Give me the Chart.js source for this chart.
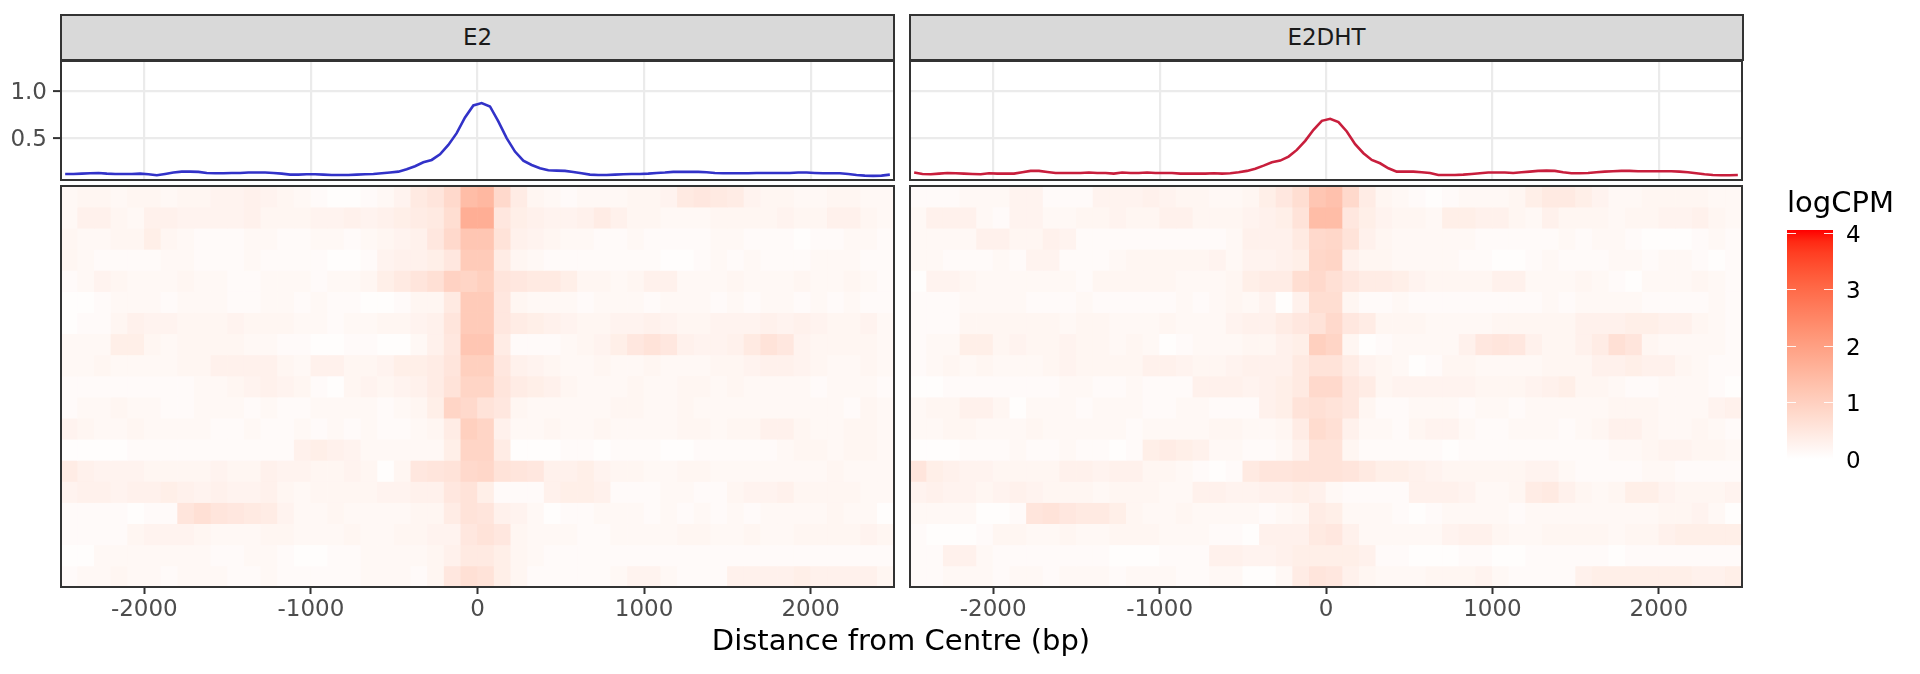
<!DOCTYPE html>
<html>
<head>
<meta charset="utf-8">
<script src="https://cdn.jsdelivr.net/npm/chart.js@4.4.0/dist/chart.umd.min.js"></script>
<style>
  html, body { margin: 0; padding: 0; background: #fff; }
  #wrap { position: relative; width: 1920px; height: 674px; overflow: hidden; font-family: "DejaVu Sans", sans-serif; }
  canvas { position: absolute; }
  .strip { position: absolute; top: 14px; height: 47px; background: #d9d9d9; border: 2px solid #333; box-sizing: border-box;
           color: #1a1a1a; font-size: 23px; line-height: 43px; text-align: center; }
  .lbl { position: absolute; white-space: nowrap; line-height: 1; color: #000; font-size: 29px; }
</style>
</head>
<body>
<div id="wrap">
  <div class="strip" style="left:60px;width:835px">E2</div>
  <div class="strip" style="left:909px;width:835px">E2DHT</div>
  <canvas id="line-e2" width="896" height="122" style="left:0;top:60px"></canvas>
  <canvas id="line-e2dht" width="836" height="122" style="left:908px;top:60px"></canvas>
  <canvas id="heat-e2" width="896" height="442" style="left:0;top:185px"></canvas>
  <canvas id="heat-e2dht" width="836" height="442" style="left:908px;top:185px"></canvas>
  <canvas id="legend" width="160" height="290" style="left:1760px;top:200px"></canvas>
  <div class="lbl" style="left:1787px;top:188px">logCPM</div>
  <div class="lbl" style="left:901px;top:626px;transform:translateX(-50%)">Distance from Centre (bp)</div>
</div>
<script>
// ---- data ----
const facets = ['E2', 'E2DHT'];
const xTicks = [-2000, -1000, 0, 1000, 2000];
const yTicks = [0.5, 1.0];
const legendTicks = [0, 1, 2, 3, 4];
const fillMin = 0;
const fillMax = 4.05;

// profile bin centres (bp)
const profileX = [
  -2475, -2425, -2375, -2325, -2275, -2225, -2175, -2125, -2075, -2025,
  -1975, -1925, -1875, -1825, -1775, -1725, -1675, -1625, -1575, -1525,
  -1475, -1425, -1375, -1325, -1275, -1225, -1175, -1125, -1075, -1025,
  -975, -925, -875, -825, -775, -725, -675, -625, -575, -525,
  -475, -425, -375, -325, -275, -225, -175, -125, -75, -25,
  25, 75, 125, 175, 225, 275, 325, 375, 425, 475,
  525, 575, 625, 675, 725, 775, 825, 875, 925, 975,
  1025, 1075, 1125, 1175, 1225, 1275, 1325, 1375, 1425, 1475,
  1525, 1575, 1625, 1675, 1725, 1775, 1825, 1875, 1925, 1975,
  2025, 2075, 2125, 2175, 2225, 2275, 2325, 2375, 2425, 2475
];

const e2Profile = [
  0.111, 0.111, 0.115, 0.118, 0.122, 0.115, 0.111, 0.111, 0.111, 0.115,
  0.108, 0.097, 0.111, 0.126, 0.136, 0.136, 0.133, 0.122, 0.118, 0.118,
  0.122, 0.122, 0.126, 0.126, 0.126, 0.122, 0.115, 0.104, 0.104, 0.108,
  0.108, 0.104, 0.100, 0.100, 0.100, 0.104, 0.108, 0.111, 0.118, 0.126,
  0.136, 0.161, 0.194, 0.237, 0.262, 0.323, 0.424, 0.550, 0.719, 0.849,
  0.874, 0.838, 0.676, 0.496, 0.352, 0.255, 0.208, 0.172, 0.151, 0.147,
  0.144, 0.133, 0.118, 0.104, 0.100, 0.100, 0.104, 0.108, 0.111, 0.111,
  0.115, 0.122, 0.126, 0.133, 0.133, 0.133, 0.133, 0.129, 0.122, 0.118,
  0.118, 0.118, 0.118, 0.122, 0.122, 0.122, 0.122, 0.122, 0.126, 0.126,
  0.122, 0.118, 0.118, 0.118, 0.111, 0.100, 0.093, 0.090, 0.093, 0.104
];

const e2dhtProfile = [
  0.126, 0.111, 0.108, 0.115, 0.122, 0.118, 0.115, 0.111, 0.108, 0.118,
  0.115, 0.115, 0.115, 0.129, 0.144, 0.144, 0.133, 0.122, 0.122, 0.122,
  0.122, 0.126, 0.122, 0.122, 0.115, 0.126, 0.122, 0.122, 0.126, 0.122,
  0.122, 0.122, 0.115, 0.115, 0.115, 0.115, 0.118, 0.115, 0.118, 0.129,
  0.144, 0.168, 0.201, 0.237, 0.255, 0.298, 0.370, 0.467, 0.586, 0.683,
  0.705, 0.669, 0.568, 0.431, 0.334, 0.262, 0.226, 0.172, 0.136, 0.136,
  0.136, 0.129, 0.122, 0.100, 0.100, 0.100, 0.104, 0.111, 0.118, 0.126,
  0.126, 0.126, 0.122, 0.129, 0.136, 0.144, 0.147, 0.144, 0.129, 0.118,
  0.118, 0.122, 0.129, 0.136, 0.140, 0.144, 0.144, 0.140, 0.140, 0.140,
  0.140, 0.140, 0.136, 0.129, 0.118, 0.108, 0.100, 0.097, 0.097, 0.100
];

// heatmap bin centres (bp), 100 bp bins
const heatBinCentres = [
  -2450, -2350, -2250, -2150, -2050, -1950, -1850, -1750, -1650, -1550,
  -1450, -1350, -1250, -1150, -1050, -950, -850, -750, -650, -550,
  -450, -350, -250, -150, -50, 50, 150, 250, 350, 450,
  550, 650, 750, 850, 950, 1050, 1150, 1250, 1350, 1450,
  1550, 1650, 1750, 1850, 1950, 2050, 2150, 2250, 2350, 2450
];

// logCPM per row (top row first), 19 rows x 50 bins
const e2Heat = [
  [0.15,0.2,0.2,0.15,0.2,0.2,0.15,0.2,0.2,0.25, 0.25,0.3,0.25,0.2,0.15,0.1,0.05,0.05,0.1,0.15, 0.25,0.45,0.55,0.8,1.4,1.5,0.8,0.4,0.2,0.15, 0.1,0.15,0.15,0.15,0.2,0.2,0.25,0.45,0.5,0.45, 0.4,0.25,0.2,0.2,0.15,0.15,0.2,0.2,0.15,0.15],
  [0.15,0.3,0.3,0.2,0.15,0.3,0.3,0.25,0.25,0.25, 0.25,0.3,0.2,0.2,0.2,0.25,0.25,0.3,0.25,0.3, 0.35,0.4,0.45,0.7,1.7,1.7,0.5,0.35,0.3,0.25, 0.25,0.3,0.4,0.3,0.2,0.2,0.15,0.15,0.15,0.2, 0.2,0.2,0.2,0.25,0.2,0.2,0.3,0.3,0.2,0.15],
  [0.2,0.15,0.15,0.2,0.2,0.35,0.2,0.15,0.1,0.1, 0.1,0.15,0.15,0.1,0.1,0.15,0.15,0.1,0.15,0.2, 0.25,0.3,0.5,0.8,1.2,1.2,0.6,0.3,0.25,0.2, 0.15,0.15,0.1,0.1,0.15,0.1,0.1,0.1,0.1,0.15, 0.15,0.1,0.1,0.1,0.05,0.1,0.1,0.15,0.15,0.1],
  [0.2,0.15,0.1,0.1,0.1,0.1,0.15,0.15,0.1,0.1, 0.1,0.15,0.1,0.1,0.1,0.1,0.05,0.05,0.1,0.25, 0.3,0.3,0.35,0.5,1.1,1.1,0.4,0.2,0.15,0.1, 0.1,0.1,0.1,0.1,0.1,0.1,0.05,0.05,0.1,0.15, 0.1,0.15,0.1,0.1,0.1,0.15,0.15,0.15,0.1,0.1],
  [0.1,0.15,0.25,0.2,0.15,0.15,0.15,0.2,0.15,0.15, 0.1,0.1,0.15,0.15,0.15,0.1,0.15,0.15,0.2,0.35, 0.45,0.55,0.65,0.95,0.9,1.0,0.55,0.5,0.45,0.45, 0.35,0.2,0.2,0.15,0.2,0.3,0.3,0.15,0.15,0.15, 0.2,0.15,0.15,0.15,0.2,0.15,0.15,0.2,0.15,0.1],
  [0.05,0.05,0.1,0.15,0.15,0.15,0.1,0.15,0.15,0.15, 0.1,0.1,0.15,0.15,0.1,0.15,0.1,0.1,0.05,0.05, 0.1,0.2,0.2,0.45,1.1,1.1,0.5,0.2,0.15,0.15, 0.15,0.1,0.15,0.15,0.15,0.1,0.15,0.15,0.15,0.1, 0.15,0.1,0.15,0.15,0.1,0.15,0.1,0.15,0.1,0.1],
  [0.05,0.1,0.1,0.2,0.3,0.25,0.25,0.2,0.2,0.2, 0.25,0.2,0.2,0.2,0.15,0.15,0.1,0.15,0.15,0.2, 0.2,0.25,0.3,0.55,1.1,1.1,0.5,0.4,0.35,0.3, 0.25,0.2,0.2,0.25,0.25,0.3,0.25,0.2,0.2,0.25, 0.25,0.25,0.3,0.25,0.3,0.25,0.2,0.2,0.25,0.15],
  [0.15,0.15,0.15,0.35,0.35,0.2,0.15,0.2,0.2,0.2, 0.2,0.15,0.15,0.1,0.1,0.05,0.05,0.1,0.1,0.05, 0.05,0.15,0.3,0.5,1.2,1.2,0.4,0.1,0.1,0.1, 0.15,0.2,0.25,0.35,0.5,0.6,0.5,0.3,0.25,0.25, 0.3,0.45,0.6,0.5,0.25,0.2,0.2,0.2,0.2,0.15],
  [0.15,0.15,0.2,0.15,0.15,0.15,0.15,0.2,0.2,0.3, 0.3,0.3,0.3,0.2,0.15,0.3,0.3,0.2,0.2,0.25, 0.35,0.35,0.4,0.55,1.0,1.0,0.5,0.3,0.25,0.2, 0.15,0.15,0.2,0.15,0.15,0.2,0.15,0.15,0.15,0.2, 0.2,0.25,0.3,0.3,0.25,0.2,0.15,0.15,0.2,0.15],
  [0.1,0.1,0.1,0.1,0.1,0.1,0.1,0.1,0.15,0.15, 0.2,0.25,0.3,0.25,0.2,0.1,0.05,0.2,0.25,0.2, 0.25,0.3,0.4,0.6,0.9,0.9,0.55,0.4,0.35,0.3, 0.2,0.15,0.15,0.15,0.2,0.15,0.15,0.2,0.2,0.15, 0.2,0.15,0.15,0.15,0.15,0.1,0.15,0.15,0.15,0.1],
  [0.1,0.15,0.15,0.2,0.15,0.15,0.1,0.1,0.15,0.15, 0.15,0.1,0.15,0.1,0.1,0.15,0.15,0.15,0.15,0.1, 0.15,0.2,0.35,0.9,0.8,0.6,0.5,0.2,0.15,0.15, 0.15,0.15,0.15,0.2,0.2,0.15,0.15,0.2,0.15,0.15, 0.15,0.15,0.15,0.15,0.15,0.15,0.15,0.1,0.2,0.15],
  [0.25,0.2,0.15,0.15,0.2,0.15,0.15,0.15,0.15,0.1, 0.1,0.15,0.1,0.1,0.15,0.1,0.15,0.1,0.15,0.1, 0.1,0.15,0.2,0.4,1.0,0.9,0.3,0.15,0.15,0.2, 0.15,0.15,0.2,0.15,0.15,0.15,0.15,0.2,0.2,0.15, 0.2,0.2,0.3,0.3,0.2,0.15,0.15,0.2,0.2,0.15],
  [0.05,0.05,0.05,0.05,0.1,0.1,0.1,0.1,0.1,0.1, 0.1,0.1,0.1,0.1,0.3,0.35,0.3,0.25,0.15,0.15, 0.15,0.15,0.15,0.35,0.9,0.9,0.4,0.05,0.05,0.05, 0.1,0.1,0.05,0.1,0.1,0.1,0.05,0.05,0.1,0.1, 0.1,0.1,0.1,0.15,0.2,0.2,0.15,0.2,0.2,0.15],
  [0.4,0.3,0.25,0.25,0.25,0.2,0.2,0.2,0.2,0.25, 0.2,0.2,0.3,0.25,0.25,0.2,0.2,0.25,0.2,0.05, 0.2,0.5,0.55,0.6,0.8,0.85,0.6,0.55,0.5,0.3, 0.3,0.35,0.25,0.2,0.2,0.15,0.15,0.2,0.2,0.15, 0.15,0.15,0.15,0.15,0.15,0.15,0.2,0.15,0.15,0.15],
  [0.25,0.3,0.3,0.25,0.3,0.3,0.35,0.3,0.25,0.3, 0.25,0.25,0.3,0.2,0.15,0.2,0.2,0.2,0.2,0.25, 0.25,0.3,0.3,0.5,0.6,0.35,0.1,0.1,0.1,0.3, 0.35,0.35,0.3,0.1,0.1,0.1,0.15,0.15,0.1,0.1, 0.2,0.25,0.25,0.3,0.2,0.2,0.2,0.2,0.15,0.15],
  [0.1,0.1,0.1,0.1,0.05,0.1,0.1,0.55,0.65,0.55, 0.5,0.45,0.4,0.25,0.15,0.15,0.2,0.15,0.15,0.15, 0.15,0.2,0.2,0.4,0.6,0.55,0.3,0.25,0.15,0.05, 0.1,0.1,0.15,0.15,0.15,0.1,0.15,0.1,0.15,0.1, 0.15,0.1,0.15,0.15,0.15,0.15,0.2,0.15,0.15,0.05],
  [0.1,0.1,0.1,0.1,0.2,0.25,0.25,0.25,0.2,0.15, 0.15,0.15,0.2,0.2,0.15,0.15,0.15,0.2,0.15,0.15, 0.2,0.2,0.25,0.25,0.5,0.6,0.5,0.2,0.15,0.15, 0.15,0.1,0.1,0.15,0.15,0.15,0.15,0.2,0.2,0.15, 0.15,0.2,0.15,0.15,0.2,0.2,0.2,0.2,0.25,0.2],
  [0.05,0.05,0.15,0.15,0.15,0.15,0.15,0.15,0.15,0.1, 0.1,0.15,0.15,0.1,0.05,0.05,0.1,0.1,0.15,0.15, 0.15,0.15,0.2,0.3,0.45,0.45,0.35,0.2,0.15,0.1, 0.1,0.1,0.1,0.1,0.1,0.1,0.1,0.1,0.1,0.1, 0.1,0.1,0.1,0.1,0.1,0.1,0.1,0.1,0.1,0.1],
  [0.1,0.15,0.15,0.2,0.15,0.15,0.1,0.15,0.15,0.15, 0.1,0.1,0.15,0.1,0.1,0.1,0.1,0.1,0.15,0.15, 0.15,0.1,0.2,0.5,0.65,0.6,0.35,0.2,0.1,0.1, 0.1,0.1,0.1,0.15,0.25,0.25,0.15,0.1,0.1,0.1, 0.3,0.3,0.3,0.3,0.35,0.3,0.3,0.3,0.3,0.2]
];

const e2dhtHeat = [
  [0.1,0.1,0.1,0.15,0.15,0.15,0.25,0.25,0.1,0.1, 0.1,0.25,0.25,0.25,0.3,0.25,0.2,0.2,0.15,0.15, 0.2,0.35,0.5,0.7,1.2,1.3,0.8,0.4,0.2,0.15, 0.1,0.05,0.1,0.15,0.15,0.15,0.2,0.35,0.45,0.45, 0.35,0.25,0.15,0.15,0.2,0.2,0.2,0.2,0.15,0.15],
  [0.15,0.3,0.3,0.3,0.15,0.1,0.25,0.25,0.15,0.15, 0.2,0.2,0.25,0.2,0.2,0.3,0.3,0.2,0.2,0.2, 0.25,0.3,0.35,0.6,1.4,1.4,0.5,0.35,0.25,0.2, 0.2,0.15,0.35,0.35,0.3,0.3,0.2,0.15,0.3,0.2, 0.2,0.2,0.15,0.2,0.2,0.25,0.25,0.3,0.2,0.15],
  [0.15,0.15,0.15,0.15,0.3,0.3,0.2,0.2,0.3,0.25, 0.1,0.1,0.1,0.1,0.1,0.1,0.1,0.1,0.1,0.15, 0.3,0.3,0.3,0.45,0.8,0.85,0.6,0.3,0.2,0.15, 0.15,0.15,0.15,0.15,0.1,0.1,0.1,0.1,0.1,0.15, 0.1,0.15,0.15,0.1,0.05,0.05,0.05,0.1,0.15,0.1],
  [0.15,0.15,0.1,0.1,0.1,0.15,0.1,0.25,0.25,0.1, 0.1,0.1,0.15,0.2,0.2,0.2,0.2,0.2,0.25,0.15, 0.25,0.25,0.3,0.35,0.85,0.9,0.3,0.2,0.2,0.15, 0.15,0.15,0.15,0.1,0.1,0.05,0.05,0.1,0.15,0.1, 0.1,0.1,0.15,0.15,0.1,0.15,0.15,0.1,0.05,0.1],
  [0.05,0.25,0.25,0.2,0.15,0.15,0.15,0.15,0.15,0.15, 0.1,0.2,0.2,0.2,0.2,0.2,0.15,0.15,0.15,0.2, 0.35,0.4,0.4,0.7,0.8,0.65,0.5,0.4,0.4,0.35, 0.25,0.2,0.2,0.2,0.2,0.3,0.3,0.15,0.15,0.15, 0.2,0.15,0.1,0.05,0.15,0.15,0.15,0.2,0.15,0.1],
  [0.1,0.1,0.1,0.15,0.15,0.15,0.15,0.1,0.1,0.1, 0.15,0.1,0.1,0.1,0.1,0.1,0.15,0.1,0.15,0.2, 0.15,0.25,0.05,0.3,0.7,0.7,0.2,0.1,0.1,0.15, 0.1,0.1,0.1,0.1,0.1,0.1,0.1,0.1,0.15,0.1, 0.15,0.15,0.15,0.15,0.1,0.1,0.1,0.1,0.15,0.1],
  [0.1,0.1,0.1,0.2,0.2,0.2,0.2,0.2,0.2,0.15, 0.2,0.2,0.15,0.15,0.15,0.2,0.15,0.15,0.15,0.25, 0.3,0.3,0.4,0.5,0.6,0.8,0.5,0.4,0.2,0.2, 0.2,0.15,0.15,0.15,0.15,0.2,0.2,0.2,0.2,0.2, 0.3,0.3,0.3,0.35,0.35,0.3,0.3,0.2,0.15,0.1],
  [0.1,0.15,0.15,0.35,0.35,0.2,0.25,0.2,0.2,0.25, 0.2,0.2,0.15,0.2,0.15,0.05,0.1,0.15,0.15,0.15, 0.2,0.2,0.3,0.35,1.0,0.9,0.2,0.05,0.1,0.15, 0.15,0.15,0.15,0.3,0.5,0.55,0.5,0.3,0.2,0.2, 0.3,0.4,0.65,0.55,0.2,0.15,0.15,0.15,0.15,0.1],
  [0.1,0.15,0.2,0.15,0.2,0.15,0.15,0.15,0.2,0.25, 0.2,0.2,0.2,0.2,0.3,0.3,0.25,0.2,0.2,0.25, 0.3,0.3,0.3,0.45,0.6,0.6,0.4,0.25,0.2,0.15, 0.05,0.1,0.2,0.2,0.15,0.15,0.15,0.15,0.2,0.2, 0.2,0.3,0.3,0.35,0.3,0.3,0.2,0.15,0.1,0.1],
  [0.05,0.05,0.1,0.1,0.1,0.1,0.1,0.1,0.1,0.15, 0.15,0.1,0.1,0.15,0.1,0.1,0.1,0.3,0.3,0.3, 0.25,0.3,0.35,0.45,0.8,0.8,0.5,0.4,0.2,0.25, 0.25,0.25,0.25,0.25,0.2,0.2,0.2,0.25,0.3,0.35, 0.2,0.2,0.15,0.1,0.1,0.15,0.15,0.15,0.1,0.05],
  [0.15,0.2,0.2,0.3,0.3,0.2,0.05,0.15,0.15,0.15, 0.1,0.15,0.15,0.15,0.1,0.1,0.15,0.15,0.1,0.1, 0.1,0.3,0.35,0.6,0.65,0.6,0.5,0.2,0.1,0.1, 0.15,0.15,0.15,0.1,0.15,0.15,0.1,0.15,0.15,0.15, 0.15,0.15,0.2,0.2,0.2,0.15,0.15,0.15,0.25,0.3],
  [0.15,0.15,0.2,0.2,0.15,0.15,0.15,0.2,0.15,0.15, 0.15,0.15,0.15,0.1,0.15,0.15,0.15,0.15,0.2,0.2, 0.15,0.15,0.2,0.4,0.75,0.65,0.3,0.15,0.15,0.1, 0.2,0.25,0.25,0.15,0.1,0.1,0.15,0.15,0.15,0.1, 0.15,0.2,0.3,0.3,0.2,0.15,0.15,0.2,0.15,0.1],
  [0.05,0.05,0.05,0.1,0.1,0.1,0.15,0.1,0.1,0.15, 0.1,0.1,0.05,0.1,0.35,0.4,0.35,0.3,0.15,0.15, 0.1,0.1,0.15,0.3,0.6,0.6,0.2,0.1,0.1,0.1, 0.1,0.1,0.05,0.1,0.1,0.1,0.1,0.1,0.1,0.1, 0.1,0.1,0.15,0.15,0.2,0.25,0.25,0.2,0.2,0.15],
  [0.55,0.35,0.3,0.25,0.25,0.2,0.2,0.2,0.2,0.3, 0.3,0.25,0.3,0.3,0.2,0.2,0.15,0.1,0.05,0.1, 0.45,0.55,0.55,0.6,0.6,0.6,0.55,0.45,0.35,0.35, 0.3,0.25,0.2,0.2,0.2,0.2,0.2,0.25,0.25,0.15, 0.1,0.1,0.1,0.1,0.15,0.15,0.1,0.1,0.1,0.1],
  [0.25,0.3,0.25,0.25,0.2,0.25,0.3,0.25,0.2,0.2, 0.2,0.15,0.2,0.2,0.2,0.15,0.15,0.3,0.3,0.25, 0.25,0.3,0.3,0.35,0.3,0.15,0.1,0.1,0.1,0.1, 0.3,0.3,0.3,0.25,0.15,0.15,0.2,0.4,0.45,0.3, 0.2,0.15,0.2,0.35,0.35,0.25,0.2,0.2,0.2,0.25],
  [0.15,0.15,0.15,0.15,0.05,0.05,0.1,0.55,0.6,0.5, 0.45,0.45,0.35,0.2,0.15,0.15,0.2,0.15,0.15,0.15, 0.15,0.1,0.15,0.2,0.4,0.35,0.15,0.15,0.15,0.1, 0.05,0.1,0.15,0.15,0.15,0.15,0.1,0.15,0.15,0.15, 0.15,0.15,0.15,0.15,0.15,0.2,0.2,0.25,0.15,0.05],
  [0.1,0.05,0.05,0.05,0.1,0.2,0.2,0.15,0.15,0.2, 0.15,0.15,0.2,0.2,0.2,0.15,0.15,0.15,0.1,0.1, 0.05,0.3,0.3,0.3,0.45,0.5,0.3,0.15,0.15,0.15, 0.15,0.15,0.25,0.3,0.3,0.2,0.15,0.15,0.2,0.2, 0.2,0.2,0.15,0.2,0.2,0.3,0.35,0.35,0.35,0.35],
  [0.1,0.1,0.3,0.3,0.15,0.1,0.1,0.1,0.1,0.1, 0.1,0.1,0.05,0.05,0.05,0.1,0.1,0.1,0.3,0.3, 0.25,0.25,0.3,0.35,0.35,0.35,0.35,0.3,0.1,0.1, 0.05,0.05,0.05,0.1,0.1,0.05,0.05,0.1,0.1,0.1, 0.1,0.1,0.05,0.1,0.1,0.1,0.1,0.1,0.1,0.1],
  [0.1,0.1,0.15,0.15,0.15,0.1,0.15,0.15,0.1,0.15, 0.15,0.15,0.1,0.15,0.15,0.15,0.1,0.1,0.15,0.15, 0.05,0.05,0.15,0.4,0.55,0.5,0.3,0.2,0.15,0.15, 0.15,0.2,0.2,0.2,0.25,0.15,0.1,0.1,0.1,0.1, 0.3,0.35,0.35,0.35,0.35,0.35,0.35,0.3,0.3,0.35]
];

(() => {
  const $ = (id) => document.getElementById(id);

  Chart.defaults.font.family = '"DejaVu Sans", sans-serif';
  Chart.defaults.animation = false;
  Chart.defaults.plugins.legend.display = false;
  Chart.defaults.plugins.tooltip.enabled = false;

  // white -> red, interpolated in Lab like scale_fill_gradient
  const lowLab = [100, 0, 0];
  const highLab = [53.2408, 80.0925, 67.2032];
  function labToRgb(L, a, b) {
    const fy = (L + 16) / 116, fx = fy + a / 500, fz = fy - b / 200;
    const inv = (t) => (t * t * t > 0.008856 ? t * t * t : (t - 16 / 116) / 7.787);
    const X = 0.95047 * inv(fx), Y = inv(fy), Z = 1.08883 * inv(fz);
    const lin = [
      3.2404542 * X - 1.5371385 * Y - 0.4985314 * Z,
      -0.9692660 * X + 1.8760108 * Y + 0.0415560 * Z,
      0.0556434 * X - 0.2040259 * Y + 1.0572252 * Z
    ];
    return lin.map((c) => {
      c = Math.min(1, Math.max(0, c));
      c = c <= 0.0031308 ? 12.92 * c : 1.055 * Math.pow(c, 1 / 2.4) - 0.055;
      return Math.round(c * 255);
    });
  }
  function rampColour(t) {
    t = Math.min(1, Math.max(0, t));
    const lab = lowLab.map((v, i) => v + (highLab[i] - v) * t);
    const [r, g, b] = labToRgb(lab[0], lab[1], lab[2]);
    return `rgb(${r},${g},${b})`;
  }
  const fillColour = (v) => rampColour((v - fillMin) / (fillMax - fillMin));

  // panel border, drawn last
  const panelBorder = {
    id: 'panelBorder',
    afterDraw(chart) {
      const { ctx, chartArea: a } = chart;
      ctx.save();
      ctx.strokeStyle = '#333333';
      ctx.lineWidth = 2;
      ctx.strokeRect(a.left, a.top, a.right - a.left, a.bottom - a.top);
      ctx.restore();
    }
  };

  const setTicks = (vals) => (s) => { s.ticks = vals.map((v) => ({ value: v })); };
  // fixed axis size, no extra label padding around the chart area
  const fixSize = (w, h) => (s) => {
    if (w != null) s.width = w;
    if (h != null) s.height = h;
    s.paddingTop = 0; s.paddingBottom = 0; s.paddingLeft = 0; s.paddingRight = 0;
  };

  function lineChart(id, vals, colour, showY) {
    return new Chart($(id), {
      type: 'line',
      data: { datasets: [{ data: profileX.map((x, i) => ({ x, y: vals[i] })), borderColor: colour,
        borderWidth: 2.6, pointRadius: 0, tension: 0, fill: false }] },
      options: {
        responsive: false, devicePixelRatio: 1,
        layout: { padding: { top: 1, bottom: 2, right: 2, left: showY ? 0 : 2 } },
        scales: {
          x: { type: 'linear', min: -2500, max: 2500, afterBuildTicks: setTicks(xTicks),
            ticks: { display: false }, border: { display: false },
            grid: { color: '#ebebeb', lineWidth: 2.2, drawTicks: false },
            afterFit: fixSize(null, 0) },
          y: { min: 0.046, max: 1.327, afterBuildTicks: setTicks(yTicks),
            ticks: { display: showY, padding: 6, labelOffset: 2, color: '#4d4d4d', font: { size: 23 },
              callback: (v) => Number(v).toFixed(1) },
            border: { display: false },
            grid: { color: '#ebebeb', lineWidth: 2.2, drawTicks: showY, tickLength: 8,
              tickColor: '#333333', tickWidth: 2 },
            afterFit: fixSize(showY ? 61 : 0, null) }
        }
      },
      plugins: [panelBorder]
    });
  }

  function heatChart(id, rows, padLeft) {
    const datasets = rows.map((vals, i) => ({
      data: heatBinCentres.map((x) => ({ x, y: [i + 0.5, i + 1.5] })),
      backgroundColor: vals.map(fillColour),
      borderWidth: 0, grouped: false, barPercentage: 1, categoryPercentage: 1
    }));
    return new Chart($(id), {
      type: 'bar',
      data: { datasets },
      options: {
        responsive: false, devicePixelRatio: 1,
        layout: { padding: { top: 1, right: 2, left: padLeft } },
        scales: {
          x: { type: 'linear', min: -2500, max: 2500, offset: false, afterBuildTicks: setTicks(xTicks),
            ticks: { padding: 2, color: '#4d4d4d', font: { size: 23 }, maxRotation: 0,
              callback: (v) => String(v) },
            border: { display: false },
            grid: { offset: false, drawOnChartArea: false, drawTicks: true, tickLength: 7,
              tickColor: '#333333', tickWidth: 2 },
            afterFit: fixSize(null, 40) },
          y: { display: false, min: 0.5, max: rows.length + 0.5, reverse: true }
        }
      },
      plugins: [panelBorder]
    });
  }

  lineChart('line-e2', e2Profile, '#3232c8', true);
  lineChart('line-e2dht', e2dhtProfile, '#c81e3c', false);
  heatChart('heat-e2', e2Heat, 61);
  heatChart('heat-e2dht', e2dhtHeat, 2);

  // colourbar legend
  function barGradient(chart) {
    const a = chart.chartArea;
    if (!a) return fillColour(fillMax);
    const g = chart.ctx.createLinearGradient(0, a.bottom, 0, a.top);
    for (let i = 0; i <= 20; i++) g.addColorStop(i / 20, rampColour(i / 20));
    return g;
  }
  const barTicks = {
    id: 'barTicks',
    afterDatasetsDraw(chart) {
      const { ctx, chartArea: a } = chart;
      const y = chart.scales.y;
      ctx.save();
      ctx.strokeStyle = 'rgba(255,255,255,0.9)';
      ctx.lineWidth = 1;
      legendTicks.forEach((v) => {
        const py = Math.round(y.getPixelForValue(v)) + 0.5;
        ctx.beginPath();
        ctx.moveTo(a.left, py); ctx.lineTo(a.left + 9, py);
        ctx.moveTo(a.right - 9, py); ctx.lineTo(a.right, py);
        ctx.stroke();
      });
      ctx.restore();
    }
  };
  new Chart($('legend'), {
    type: 'bar',
    data: { labels: ['logCPM'], datasets: [{ data: [[fillMin, fillMax]],
      backgroundColor: (c) => barGradient(c.chart), borderWidth: 0, barPercentage: 1, categoryPercentage: 1 }] },
    options: {
      responsive: false, devicePixelRatio: 1,
      layout: { padding: { left: 27, top: 30, bottom: 31 } },
      scales: {
        x: { display: false },
        y: { position: 'right', min: fillMin, max: fillMax, afterBuildTicks: setTicks(legendTicks),
          ticks: { padding: 13, labelOffset: 3, color: '#000000', font: { size: 23 } },
          grid: { display: false, drawTicks: false }, border: { display: false },
          afterFit: fixSize(87, null) }
      }
    },
    plugins: [barTicks]
  });
})();
</script>
</body>
</html>
